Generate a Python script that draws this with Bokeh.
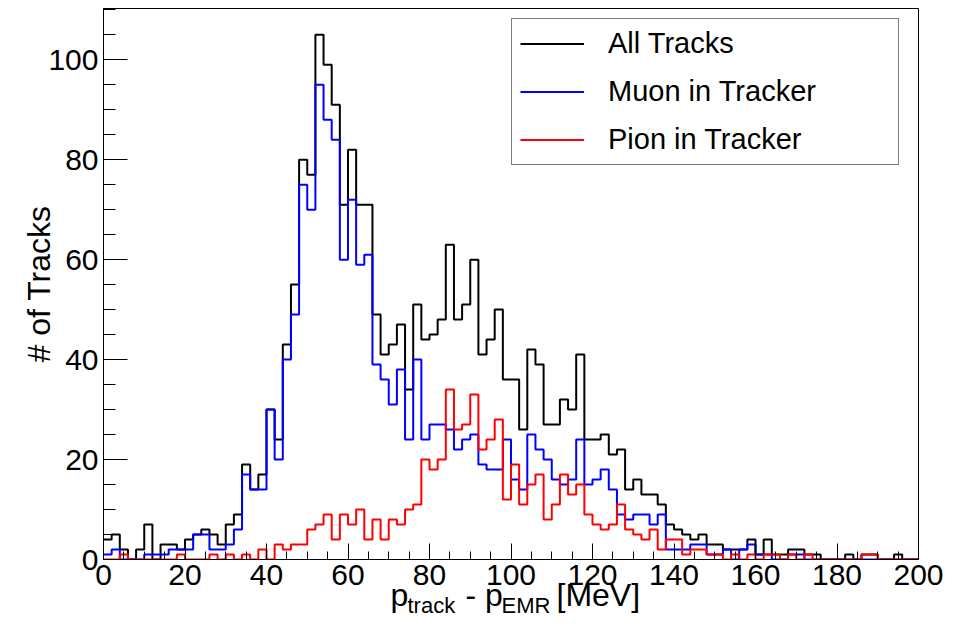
import numpy as np
from bokeh.plotting import figure
from bokeh.layouts import column
from bokeh.models import SingleIntervalTicker, Legend, LegendItem, Range1d
from bokeh.core.properties import value
from bokeh.embed import file_html
from bokeh.resources import INLINE

# ---- data: 100 bins of 2 MeV from 0 to 200 MeV ----
x_min = 0
x_max = 200
n_bins = 100

all_tracks = [4, 5, 2, 0, 2, 7, 0, 3, 3, 2,
              4, 5, 6, 5, 3, 7, 9, 19, 14, 17,
              30, 24, 43, 55, 80, 77, 105, 99, 91, 71,
              82, 71, 71, 49, 41, 43, 47, 34, 51, 44,
              45, 48, 63, 48, 51, 60, 41, 44, 50, 36,
              36, 26, 42, 39, 27, 27, 32, 30, 41, 24,
              24, 25, 21, 22, 14, 16, 13, 13, 11, 7,
              6, 5, 4, 5, 3, 3, 2, 2, 2, 4,
              1, 4, 1, 1, 2, 2, 1, 1, 0, 0,
              0, 1, 0, 1, 1, 0, 0, 1, 0, 0]

muon_tracker = [1, 2, 0, 0, 0, 1, 1, 1, 2, 2,
                2, 5, 5, 2, 2, 3, 6, 17, 14, 14,
                30, 20, 40, 49, 75, 70, 95, 88, 84, 60,
                72, 59, 61, 39, 36, 31, 38, 24, 40, 24,
                27, 27, 26, 22, 24, 25, 19, 18, 18, 24,
                16, 14, 25, 22, 20, 16, 15, 16, 24, 15,
                16, 18, 14, 9, 8, 9, 9, 7, 9, 2,
                2, 2, 3, 3, 1, 1, 2, 0, 2, 3,
                1, 1, 0, 0, 1, 1, 0, 0, 0, 0,
                0, 0, 0, 0, 0, 0, 0, 0, 0, 0]

pion_tracker = [0, 0, 1, 0, 0, 0, 0, 0, 0, 1,
                0, 0, 0, 1, 0, 1, 0, 1, 0, 2,
                0, 3, 2, 3, 3, 6, 7, 9, 4, 9,
                7, 10, 4, 8, 4, 8, 7, 10, 11, 20,
                18, 20, 34, 26, 27, 33, 22, 24, 28, 12,
                19, 11, 15, 17, 8, 11, 17, 13, 15, 9,
                7, 6, 7, 11, 6, 5, 4, 6, 2, 4,
                4, 1, 2, 2, 1, 1, 0, 1, 0, 1,
                0, 1, 1, 0, 1, 0, 1, 0, 0, 0,
                0, 0, 0, 1, 1, 0, 0, 0, 0, 0]

labels = ["All Tracks", "Muon in Tracker", "Pion in Tracker"]
colors = ["#000000", "#0000ff", "#ff0000"]
x_ticks_interval = 20
y_ticks_interval = 20

# x-axis title pieces: (text, is_subscript)
x_title = [("p", False), ("track", True), ("- p", False), ("EMR", True), ("[MeV]", False)]

edges = np.linspace(x_min, x_max, n_bins + 1)
y_top = 1.05 * max(all_tracks)

FONT = "Liberation Sans"
W, H = 956, 629
BL, BR, BT, BB = 103, 38, 8, 70   # frame borders (px)

p = figure(width=W, height=H, output_backend="svg", toolbar_location=None,
           x_range=Range1d(x_min, x_max), y_range=Range1d(0, y_top),
           min_border_left=BL, min_border_right=BR, min_border_top=BT,
           min_border_bottom=BB)
p.background_fill_color = "white"
p.border_fill_color = "white"
p.outline_line_color = "black"
p.outline_line_width = 1
p.xgrid.visible = False
p.ygrid.visible = False

renderers = []
for counts, col in zip([all_tracks, muon_tracker, pion_tracker], colors):
    yy = np.append(np.array(counts, dtype=float), counts[-1])
    r = p.step(x=edges, y=yy, mode="after", line_color=col, line_width=2)
    renderers.append(r)

# axes
p.xaxis.ticker = SingleIntervalTicker(interval=x_ticks_interval, num_minor_ticks=4)
p.yaxis.ticker = SingleIntervalTicker(interval=y_ticks_interval, num_minor_ticks=4)
for ax in (p.xaxis[0], p.yaxis[0]):
    ax.axis_line_color = "black"
    ax.axis_line_width = 1
    ax.major_tick_line_color = "black"
    ax.minor_tick_line_color = "black"
    ax.major_tick_out = 0
    ax.minor_tick_out = 0
    ax.major_label_text_font = FONT
    ax.major_label_text_font_size = "30px"
    ax.major_label_text_color = "black"
    ax.major_label_standoff = 5
p.xaxis.major_tick_in = 16
p.xaxis.minor_tick_in = 8
p.yaxis.major_tick_in = 24
p.yaxis.minor_tick_in = 12

p.yaxis.axis_label = "# of Tracks"
p.yaxis.axis_label_text_font = FONT
p.yaxis.axis_label_text_font_size = "32px"
p.yaxis.axis_label_text_font_style = "normal"
p.yaxis.axis_label_text_color = "black"
p.yaxis.axis_label_standoff = -12

legend = Legend(items=[LegendItem(label=l, renderers=[r]) for l, r in zip(labels, renderers)],
                location=(408, 394))
legend.border_line_color = "black"
legend.border_line_width = 1
legend.background_fill_color = "white"
legend.background_fill_alpha = 1.0
legend.label_text_font = FONT
legend.label_text_font_size = "29px"
legend.label_text_color = "black"
legend.glyph_width = 64
legend.glyph_height = 33
legend.label_height = 33
legend.spacing = 15
legend.padding = 8
legend.label_standoff = 24
legend.label_width = 282
legend.margin = 0
p.add_layout(legend)

# ---- transparent overlay strip carrying the x-axis title (with subscripts) ----
TH = 50
p2 = figure(width=W, height=TH, output_backend="svg", toolbar_location=None,
            x_range=Range1d(BL, W - BR), y_range=Range1d(0, TH),
            min_border_left=0, min_border_right=0, min_border_top=0, min_border_bottom=0,
            margin=(-TH - 10, 0, 0, 0))
p2.axis.visible = False
p2.grid.visible = False
p2.outline_line_color = None
p2.background_fill_alpha = 0
p2.border_fill_alpha = 0

# horizontal layout of the title pieces (page pixel positions)
x_pos = [390, 407, 465, 501, 556]
main_base, sub_base = 25, 14
main_x = [x for (t, s), x in zip(x_title, x_pos) if not s]
main_t = [t for (t, s) in x_title if not s]
sub_x = [x for (t, s), x in zip(x_title, x_pos) if s]
sub_t = [t for (t, s) in x_title if s]
p2.text(x=main_x, y=[main_base] * len(main_x), text=main_t, text_font=value(FONT),
        text_font_size="32px", text_color="black", text_baseline="alphabetic", text_align="left")
p2.text(x=sub_x, y=[sub_base] * len(sub_x), text=sub_t, text_font=value(FONT),
        text_font_size="22px", text_color="black", text_baseline="alphabetic", text_align="left")

layout = column(p, p2, spacing=0)
open("out.html", "w").write(file_html(layout, INLINE))
